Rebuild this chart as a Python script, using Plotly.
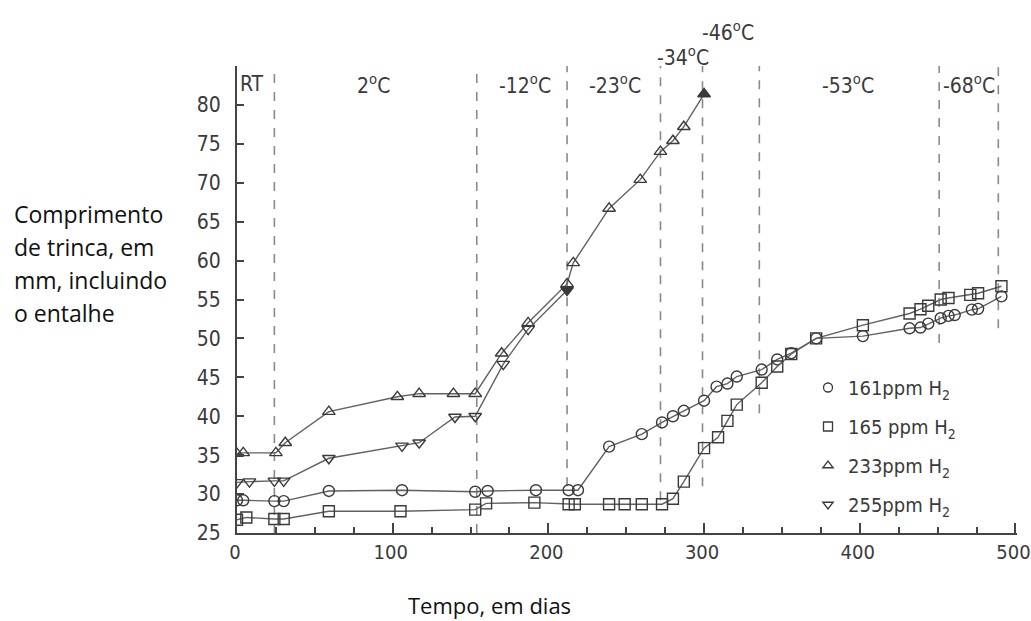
import plotly.graph_objects as go

# ---------------- data ----------------
days_161 = [0, 4, 24, 30, 59, 106, 153, 161, 192, 213, 219, 239, 260, 273, 280, 287, 300, 308,
            315, 321, 337, 347, 356, 372, 402, 432, 439, 444, 452, 457, 461, 472, 476, 491]
len_161 = [29.2, 29.2, 29.1, 29.1, 30.4, 30.5, 30.3, 30.4, 30.5, 30.5, 30.5, 36.1, 37.7, 39.2,
           40.0, 40.7, 42.0, 43.8, 44.2, 45.1, 46.0, 47.3, 48.1, 50.0, 50.3, 51.3, 51.4, 51.9,
           52.6, 52.9, 53.0, 53.7, 53.8, 55.4]

days_165 = [0, 6, 24, 30, 59, 105, 153, 160, 191, 213, 217, 239, 249, 260, 273, 280, 287, 300,
            309, 315, 321, 337, 347, 356, 372, 402, 432, 439, 444, 452, 457, 471, 476, 491]
len_165 = [26.7, 27.0, 26.8, 26.8, 27.8, 27.8, 28.0, 28.8, 28.9, 28.7, 28.7, 28.7, 28.7, 28.7,
           28.7, 29.4, 31.6, 35.9, 37.3, 39.4, 41.5, 44.3, 46.4, 48.0, 50.0, 51.7, 53.2, 53.75,
           54.2, 55.0, 55.2, 55.6, 55.8, 56.7]

days_233 = [0, 4, 25, 31, 59, 103, 117, 139, 153, 170, 187, 212, 216, 239, 259, 272, 280, 287, 300]
len_233 = [35.2, 35.3, 35.3, 36.6, 40.6, 42.5, 42.9, 42.9, 42.9, 48.1, 52.0, 57.0, 59.7, 66.7,
           70.4, 74.0, 75.4, 77.2, 81.4]

days_255 = [0, 8, 24, 30, 59, 106, 117, 140, 153, 171, 187, 212]
len_255 = [31.5, 31.6, 31.7, 31.7, 34.6, 36.2, 36.6, 39.9, 40.0, 46.7, 51.2, 56.2]

series_names = ["161ppm H<sub>2</sub>", "165 ppm H<sub>2</sub>",
                "233ppm H<sub>2</sub>", "255ppm H<sub>2</sub>"]

# temperature regime boundaries (days) and where each dashed divider ends (mm)
boundary_days = [24, 154, 212, 272, 299, 335.5, 451, 489]
boundary_low = [25, 25, 31, 29.2, 31, 40.4, 49.4, 51.3]

temp_labels = ["RT", "2<sup>o</sup>C", "-12<sup>o</sup>C", "-23<sup>o</sup>C",
               "-34<sup>o</sup>C", "-46<sup>o</sup>C", "-53<sup>o</sup>C", "-68<sup>o</sup>C"]
temp_label_x = [9.6, 87.4, 185, 243, 286.6, 315.5, 392.7, 470]
temp_label_y = [82.7, 82.7, 82.7, 82.7, 86.3, 89.5, 82.7, 82.7]

y_title_lines = ["Comprimento", "de trinca, em", "mm, incluindo", "o entalhe"]
x_title = "Tempo, em dias"

# ---------------- styling ----------------
INK = "#3a3a3a"
LINE = "#606060"
TICKFONT = dict(family="Liberation Sans Narrow, DejaVu Sans Condensed, Arial Narrow, sans-serif",
                size=21, color=INK)
TITLEFONT = dict(family="Open Sans, Noto Sans, sans-serif", size=23, color="#111")

X_MIN, X_MAX, Y_MIN, Y_MAX = 0, 501, 25, 85
PLOT_L, PLOT_R, PLOT_T, PLOT_B = 237, 1017, 66, 533
W, H = 1031, 621


def px_to_paper(px, py):
    return (px - PLOT_L) / (PLOT_R - PLOT_L), (PLOT_B - py) / (PLOT_B - PLOT_T)


fig = go.Figure()

symbols = ["circle", "square", "triangle-up", "triangle-down"]
data = [(days_161, len_161, False), (days_165, len_165, False),
        (days_233, len_233, True), (days_255, len_255, True)]

for (x, y, filled_last), sym, name in zip(data, symbols, series_names):
    syms = [sym + "-open"] * len(y)
    if filled_last:
        syms[-1] = sym
    fig.add_trace(go.Scatter(
        x=x, y=y, name=name, mode="lines+markers", showlegend=False,
        line=dict(color=LINE, width=1.4),
        marker=dict(symbol=syms, size=11, color=INK, line=dict(color=INK, width=1.4)),
    ))

# legend entries (marker only, as in the reference)
for sym, name in zip(symbols, series_names):
    fig.add_trace(go.Scatter(
        x=[None], y=[None], name=name, mode="markers", legendgroup=name,
        marker=dict(symbol=sym + "-open", size=9, color=INK, line=dict(color=INK, width=1.3)),
    ))

for bx, blow in zip(boundary_days, boundary_low):
    fig.add_shape(type="line", xref="x", yref="y", x0=bx, x1=bx, y0=blow, y1=Y_MAX,
                  line=dict(color="#8a8a8a", width=1.6, dash="dash"), layer="below")

for txt, tx, ty in zip(temp_labels, temp_label_x, temp_label_y):
    fig.add_annotation(x=(tx - X_MIN) / (X_MAX - X_MIN), y=(ty - Y_MIN) / (Y_MAX - Y_MIN),
                       xref="paper", yref="paper", text=txt, showarrow=False,
                       font=TICKFONT, xanchor="center", yanchor="middle")

for i, line_txt in enumerate(y_title_lines):
    ax, ay = px_to_paper(12, 214 + 33 * i)
    fig.add_annotation(x=ax, y=ay, xref="paper", yref="paper", text=line_txt,
                       showarrow=False, xanchor="left", yanchor="middle", font=TITLEFONT)

ax, ay = px_to_paper(489, 605)
fig.add_annotation(x=ax, y=ay, xref="paper", yref="paper", text=x_title, showarrow=False,
                   xanchor="center", yanchor="middle", font=dict(TITLEFONT, size=22))

lx, ly = px_to_paper(808, 368)
fig.update_layout(
    width=W, height=H,
    margin=dict(l=PLOT_L, r=W - PLOT_R, t=PLOT_T, b=H - PLOT_B, autoexpand=False),
    paper_bgcolor="white", plot_bgcolor="white",
    showlegend=True,
    legend=dict(x=lx, y=ly, xanchor="left", yanchor="top", bgcolor="rgba(0,0,0,0)",
                font=dict(family=TICKFONT["family"], size=20, color=INK),
                tracegroupgap=10),
    xaxis=dict(range=[X_MIN, X_MAX], showgrid=False, zeroline=False, automargin=False,
               showline=True, linecolor="#444", linewidth=2,
               tickmode="linear", tick0=0, dtick=100, ticks="inside", ticklen=10,
               tickcolor="#444", tickwidth=1.5, tickfont=dict(TICKFONT, size=20),
               ticklabeloverflow="allow", ticklabelshift=-2,
               minor=dict(dtick=25, ticks="inside", ticklen=6, tickcolor="#444", tickwidth=1.5)),
    yaxis=dict(range=[Y_MIN, Y_MAX], showgrid=False, zeroline=False, automargin=False,
               showline=True, linecolor="#444", linewidth=2,
               tickvals=list(range(25, 85, 5)), ticks="inside", ticklen=7,
               tickcolor="#444", tickwidth=1.5, tickfont=TICKFONT, ticklabelstandoff=10),
)

fig.write_html("out.html")
